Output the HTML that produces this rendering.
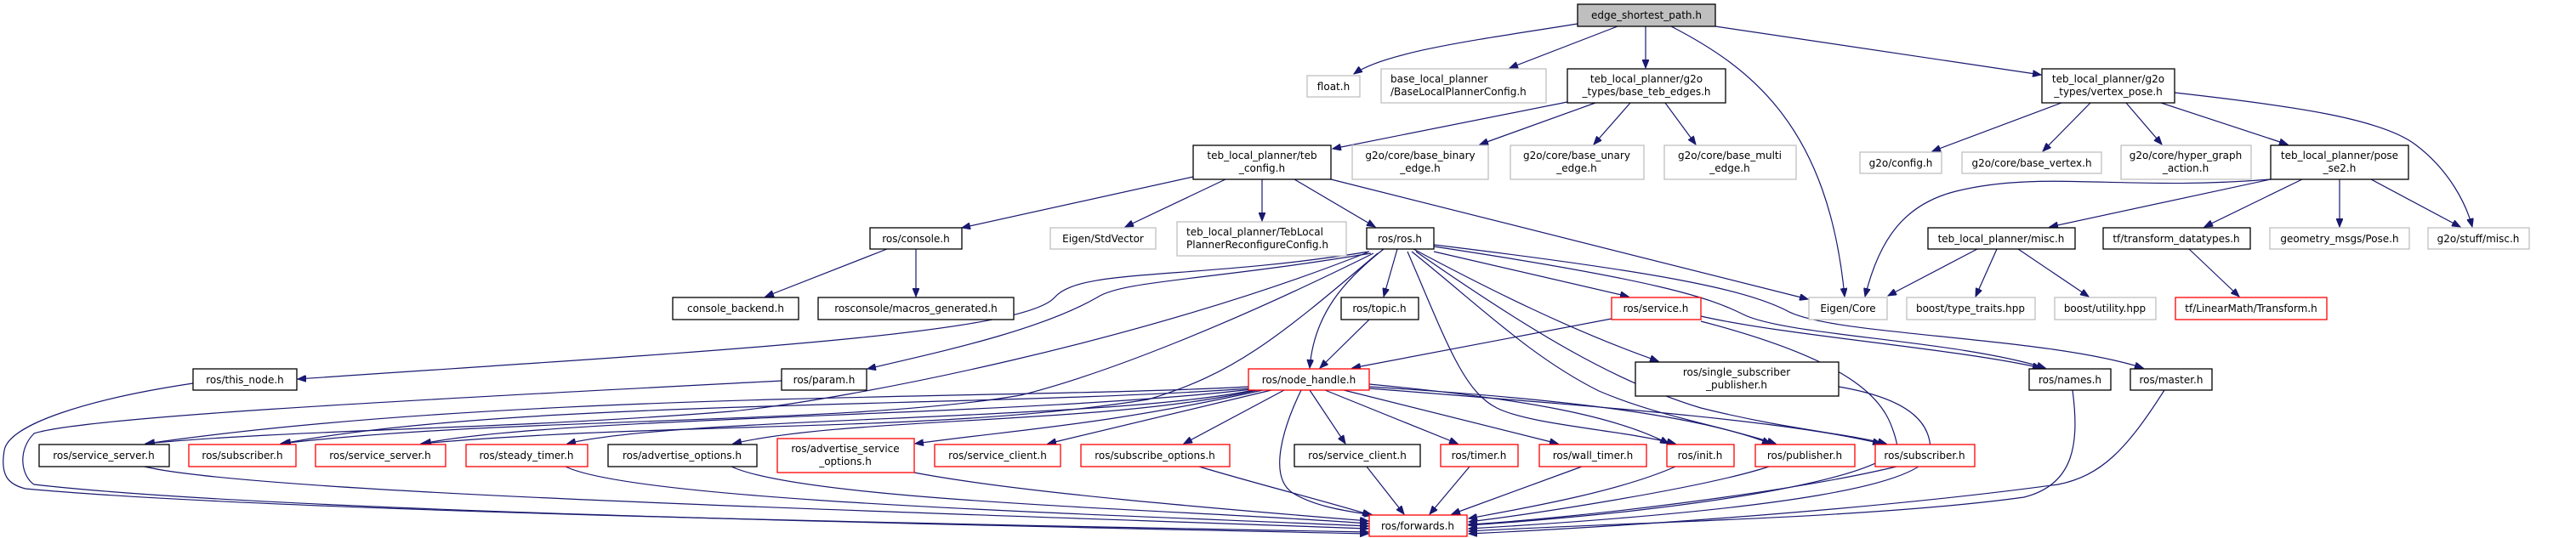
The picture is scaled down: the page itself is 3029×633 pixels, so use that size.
<!DOCTYPE html>
<html><head><meta charset="utf-8"><style>
html,body{margin:0;padding:0;background:#fff;}
svg{display:block;}
text{font-family:"DejaVu Sans","Liberation Sans",sans-serif;font-size:12px;fill:#000;}
.e{stroke:#191970;stroke-width:1.2;fill:none;marker-end:url(#a);}
.b{fill:#fff;stroke:#000;stroke-width:1.3;}
.g{fill:#fff;stroke:#bfbfbf;stroke-width:1.3;}
.r{fill:#fff;stroke:#ff0000;stroke-width:1.3;}
</style></head><body>
<svg width="3029" height="633" viewBox="0 0 3029 633" xmlns="http://www.w3.org/2000/svg">
<defs><marker id="a" markerWidth="11" markerHeight="8" refX="10" refY="4" orient="auto" markerUnits="userSpaceOnUse"><path d="M0,0 L10,4 L0,8 z" fill="#191970" stroke="#191970"/></marker></defs>

<!-- edges from edge_shortest_path -->
<path class="e" d="M1855,28 C1750,45 1630,60 1592,87"/>
<path class="e" d="M1902,31 L1775,80"/>
<path class="e" d="M1935,31 L1935,80"/>
<path class="e" d="M1965,31 C2060,80 2150,150 2169,349"/>
<path class="e" d="M2017,31 L2400,88"/>
<!-- base_teb_edges -->
<path class="e" d="M1843,120 L1567,175"/>
<path class="e" d="M1876,121 L1740,170"/>
<path class="e" d="M1917,121 L1874,170"/>
<path class="e" d="M1958,121 L1994,170"/>
<!-- vertex_pose -->
<path class="e" d="M2424,121 L2272,178"/>
<path class="e" d="M2458,121 L2402,178"/>
<path class="e" d="M2500,121 L2542,170"/>
<path class="e" d="M2541,121 L2690,170"/>
<path class="e" d="M2557,109 C2700,125 2800,140 2840,170 C2880,200 2900,240 2907,267"/>
<!-- pose_se2 -->
<path class="e" d="M2670,211 C2500,225 2400,200 2300,225 C2240,240 2210,280 2193,349"/>
<path class="e" d="M2670,211 L2410,267"/>
<path class="e" d="M2707,211 L2592,267"/>
<path class="e" d="M2751,211 L2751,267"/>
<path class="e" d="M2788,211 L2893,267"/>
<!-- misc.h -->
<path class="e" d="M2325,293 L2220,348"/>
<path class="e" d="M2348,293 L2323,349"/>
<path class="e" d="M2373,293 L2456,349"/>
<path class="e" d="M2574,293 L2633,349"/>
<!-- teb_config -->
<path class="e" d="M1403,208 L1131,268"/>
<path class="e" d="M1441,211 L1323,267"/>
<path class="e" d="M1484,211 L1484,260"/>
<path class="e" d="M1522,211 L1617,267"/>
<path class="e" d="M1565,211 L2126,352"/>
<!-- console -->
<path class="e" d="M1043,293 L900,349"/>
<path class="e" d="M1077,293 L1077,349"/>
<!-- ros.h -->
<path class="e" d="M1610,296 C1400,330 1270,315 1240,350 C1200,395 800,415 350,446"/>
<path class="e" d="M1612,298 C1420,330 1320,330 1290,350 C1220,390 1100,415 1020,434"/>
<path class="e" d="M1627,293 C1580,330 1545,370 1540,433"/>
<path class="e" d="M1643,293 L1627,349"/>
<path class="e" d="M1686,296 L1915,349"/>
<path class="e" d="M1662,293 C1750,340 1850,390 1950,425"/>
<path class="e" d="M1686,290 C1950,330 2010,350 2050,370 C2100,395 2300,400 2405,433"/>
<path class="e" d="M1686,288 C1950,320 2050,340 2100,365 C2150,395 2400,395 2520,433"/>
<path class="e" d="M1655,296 C1700,400 1720,460 1760,480 C1800,500 1900,505 1970,522"/>
<path class="e" d="M1660,296 C1740,360 1800,420 1880,460 C1950,490 2020,500 2088,522"/>
<path class="e" d="M1665,296 C1800,390 1900,450 2000,480 C2100,505 2170,510 2218,522"/>
<path class="e" d="M1608,297 C1350,400 1000,470 860,484 C600,505 350,505 171,522"/>
<path class="e" d="M1615,298 C1450,380 1300,440 1200,465 C1000,500 600,490 330,522"/>
<path class="e" d="M1620,298 C1500,400 1450,440 1350,470 C1100,510 800,495 495,522"/>
<!-- topic -->
<path class="e" d="M1610,376 L1552,433"/>
<!-- service -->
<path class="e" d="M1895,375 L1590,433"/>
<path class="e" d="M2000,372 C2100,395 2300,410 2400,433"/>
<path class="e" d="M2000,378 C2200,430 2220,480 2230,520 C2240,560 2000,600 1727,618"/>
<path class="e" d="M2162,455 C2250,470 2270,500 2270,530 C2270,570 2100,600 1727,622"/>
<!-- node_handle -->
<path class="e" d="M1468,455 C1200,470 600,460 172,522"/>
<path class="e" d="M1470,457 C1150,480 600,470 332,522"/>
<path class="e" d="M1472,458 C1200,490 650,490 497,522"/>
<path class="e" d="M1474,459 C1300,495 800,490 667,522"/>
<path class="e" d="M1478,459 C1300,500 1000,490 862,522"/>
<path class="e" d="M1485,459 C1300,500 1200,505 1076,522"/>
<path class="e" d="M1495,459 L1232,522"/>
<path class="e" d="M1510,459 L1392,522"/>
<path class="e" d="M1540,459 L1582,522"/>
<path class="e" d="M1558,459 L1714,522"/>
<path class="e" d="M1580,459 L1832,522"/>
<path class="e" d="M1610,452 C1800,470 1900,490 1962,522"/>
<path class="e" d="M1610,455 C1850,470 2000,490 2082,522"/>
<path class="e" d="M1610,457 C1900,480 2100,495 2212,522"/>
<path class="e" d="M1530,459 C1510,500 1490,560 1520,580 C1550,598 1590,602 1614,606"/>
<!-- bottom row to forwards -->
<path class="e" d="M170,549 C300,580 1000,600 1609,622"/>
<path class="e" d="M665,549 C750,590 1300,605 1609,619"/>
<path class="e" d="M860,549 C950,590 1400,600 1609,616"/>
<path class="e" d="M1075,556 C1200,580 1450,600 1609,613"/>
<path class="e" d="M1410,549 C1480,570 1560,590 1612,606"/>
<path class="e" d="M1607,549 L1651,605"/>
<path class="e" d="M1728,549 L1681,605"/>
<path class="e" d="M1860,549 L1707,605"/>
<path class="e" d="M1970,549 C1900,580 1780,600 1727,610"/>
<path class="e" d="M2080,549 C2000,575 1800,605 1727,614"/>
<path class="e" d="M2230,549 C2100,580 1850,610 1727,617"/>
<path class="e" d="M2437,459 C2445,520 2440,570 2380,585 C2200,610 1900,615 1727,625"/>
<path class="e" d="M2545,459 C2500,530 2470,560 2420,570 C2200,600 1900,620 1727,628"/>
<path class="e" d="M227,451 C100,470 10,500 5,530 C0,560 10,570 30,575 C300,600 1000,615 1609,626"/>
<path class="e" d="M919,448 C500,470 100,490 40,510 C20,530 25,560 40,570 C300,600 1000,615 1609,628"/>

<!-- nodes -->
<rect x="1855" y="5" width="162" height="26" fill="#bfbfbf" stroke="#000" stroke-width="1.3"/><text x="1936" y="22" text-anchor="middle">edge_shortest_path.h</text>
<rect class="g" x="1537" y="89" width="62" height="25"/><text x="1568" y="106" text-anchor="middle">float.h</text>
<rect class="g" x="1624" y="81" width="194" height="40"/><text x="1635" y="97">base_local_planner</text><text x="1635" y="112">/BaseLocalPlannerConfig.h</text>
<rect class="b" x="1843" y="81" width="186" height="40"/><text x="1936" y="97" text-anchor="middle">teb_local_planner/g2o</text><text x="1936" y="112" text-anchor="middle">_types/base_teb_edges.h</text>
<rect class="b" x="1403" y="171" width="162" height="40"/><text x="1484" y="187" text-anchor="middle">teb_local_planner/teb</text><text x="1484" y="202" text-anchor="middle">_config.h</text>
<rect class="g" x="1590" y="171" width="160" height="40"/><text x="1670" y="187" text-anchor="middle">g2o/core/base_binary</text><text x="1670" y="202" text-anchor="middle">_edge.h</text>
<rect class="g" x="1776" y="171" width="157" height="40"/><text x="1854" y="187" text-anchor="middle">g2o/core/base_unary</text><text x="1854" y="202" text-anchor="middle">_edge.h</text>
<rect class="g" x="1957" y="171" width="155" height="40"/><text x="2034" y="187" text-anchor="middle">g2o/core/base_multi</text><text x="2034" y="202" text-anchor="middle">_edge.h</text>
<rect class="g" x="2187" y="179" width="96" height="25"/><text x="2235" y="196" text-anchor="middle">g2o/config.h</text>
<rect class="b" x="2401" y="81" width="156" height="40"/><text x="2479" y="97" text-anchor="middle">teb_local_planner/g2o</text><text x="2479" y="112" text-anchor="middle">_types/vertex_pose.h</text>
<rect class="g" x="2307" y="179" width="164" height="25"/><text x="2389" y="196" text-anchor="middle">g2o/core/base_vertex.h</text>
<rect class="g" x="2494" y="171" width="153" height="40"/><text x="2570" y="187" text-anchor="middle">g2o/core/hyper_graph</text><text x="2570" y="202" text-anchor="middle">_action.h</text>
<rect class="b" x="2670" y="171" width="162" height="40"/><text x="2751" y="187" text-anchor="middle">teb_local_planner/pose</text><text x="2751" y="202" text-anchor="middle">_se2.h</text>
<rect class="b" x="1023" y="268" width="108" height="25"/><text x="1077" y="285" text-anchor="middle">ros/console.h</text>
<rect class="g" x="1235" y="268" width="124" height="25"/><text x="1297" y="285" text-anchor="middle">Eigen/StdVector</text>
<rect class="g" x="1384" y="261" width="199" height="40"/><text x="1395" y="277">teb_local_planner/TebLocal</text><text x="1395" y="292">PlannerReconfigureConfig.h</text>
<rect class="b" x="1607" y="268" width="79" height="25"/><text x="1646" y="285" text-anchor="middle">ros/ros.h</text>
<rect class="b" x="2267" y="268" width="173" height="25"/><text x="2353" y="285" text-anchor="middle">teb_local_planner/misc.h</text>
<rect class="b" x="2473" y="268" width="173" height="25"/><text x="2559" y="285" text-anchor="middle">tf/transform_datatypes.h</text>
<rect class="g" x="2669" y="268" width="164" height="25"/><text x="2751" y="285" text-anchor="middle">geometry_msgs/Pose.h</text>
<rect class="g" x="2855" y="268" width="119" height="25"/><text x="2914" y="285" text-anchor="middle">g2o/stuff/misc.h</text>
<rect class="b" x="791" y="350" width="148" height="26"/><text x="865" y="367" text-anchor="middle">console_backend.h</text>
<rect class="b" x="962" y="350" width="230" height="26"/><text x="1077" y="367" text-anchor="middle">rosconsole/macros_generated.h</text>
<rect class="b" x="1577" y="350" width="91" height="26"/><text x="1622" y="367" text-anchor="middle">ros/topic.h</text>
<rect class="r" x="1895" y="350" width="105" height="26"/><text x="1947" y="367" text-anchor="middle">ros/service.h</text>
<rect class="g" x="2127" y="350" width="92" height="26"/><text x="2173" y="367" text-anchor="middle">Eigen/Core</text>
<rect class="g" x="2242" y="350" width="151" height="26"/><text x="2317" y="367" text-anchor="middle">boost/type_traits.hpp</text>
<rect class="g" x="2416" y="350" width="119" height="26"/><text x="2475" y="367" text-anchor="middle">boost/utility.hpp</text>
<rect class="r" x="2558" y="350" width="178" height="26"/><text x="2647" y="367" text-anchor="middle">tf/LinearMath/Transform.h</text>
<rect class="b" x="227" y="434" width="122" height="25"/><text x="288" y="451" text-anchor="middle">ros/this_node.h</text>
<rect class="b" x="919" y="434" width="100" height="25"/><text x="969" y="451" text-anchor="middle">ros/param.h</text>
<rect class="r" x="1468" y="434" width="142" height="25"/><text x="1539" y="451" text-anchor="middle">ros/node_handle.h</text>
<rect class="b" x="1923" y="426" width="239" height="40"/><text x="2042" y="442" text-anchor="middle">ros/single_subscriber</text><text x="2042" y="457" text-anchor="middle">_publisher.h</text>
<rect class="b" x="2386" y="434" width="96" height="25"/><text x="2434" y="451" text-anchor="middle">ros/names.h</text>
<rect class="b" x="2505" y="434" width="96" height="25"/><text x="2553" y="451" text-anchor="middle">ros/master.h</text>
<rect class="b" x="46" y="523" width="153" height="26"/><text x="122" y="540" text-anchor="middle">ros/service_server.h</text>
<rect class="r" x="222" y="523" width="126" height="26"/><text x="285" y="540" text-anchor="middle">ros/subscriber.h</text>
<rect class="r" x="371" y="523" width="153" height="26"/><text x="447" y="540" text-anchor="middle">ros/service_server.h</text>
<rect class="r" x="548" y="523" width="143" height="26"/><text x="619" y="540" text-anchor="middle">ros/steady_timer.h</text>
<rect class="b" x="715" y="523" width="175" height="26"/><text x="802" y="540" text-anchor="middle">ros/advertise_options.h</text>
<rect class="r" x="914" y="516" width="161" height="40"/><text x="994" y="532" text-anchor="middle">ros/advertise_service</text><text x="994" y="547" text-anchor="middle">_options.h</text>
<rect class="r" x="1099" y="523" width="148" height="26"/><text x="1173" y="540" text-anchor="middle">ros/service_client.h</text>
<rect class="r" x="1271" y="523" width="175" height="26"/><text x="1358" y="540" text-anchor="middle">ros/subscribe_options.h</text>
<rect class="b" x="1522" y="523" width="148" height="26"/><text x="1596" y="540" text-anchor="middle">ros/service_client.h</text>
<rect class="r" x="1694" y="523" width="91" height="26"/><text x="1739" y="540" text-anchor="middle">ros/timer.h</text>
<rect class="r" x="1810" y="523" width="126" height="26"/><text x="1873" y="540" text-anchor="middle">ros/wall_timer.h</text>
<rect class="r" x="1960" y="523" width="79" height="26"/><text x="1999" y="540" text-anchor="middle">ros/init.h</text>
<rect class="r" x="2064" y="523" width="117" height="26"/><text x="2122" y="540" text-anchor="middle">ros/publisher.h</text>
<rect class="r" x="2205" y="523" width="117" height="26"/><text x="2263" y="540" text-anchor="middle">ros/subscriber.h</text>
<rect class="r" x="1610" y="606" width="115" height="25"/><text x="1667" y="623" text-anchor="middle">ros/forwards.h</text>
</svg>
</body></html>
